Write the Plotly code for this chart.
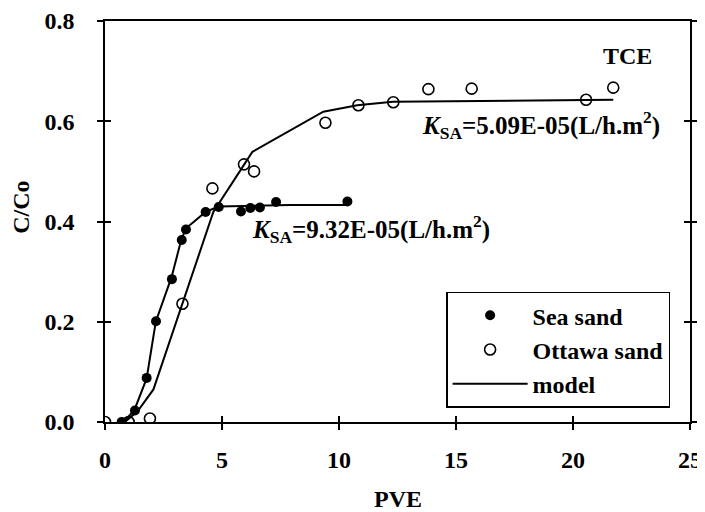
import plotly.graph_objects as go

sea_x = [0.71, 1.28, 1.78, 2.18, 2.86, 3.28, 3.46, 4.30, 4.86, 5.81, 6.21, 6.62, 7.31, 10.36]
sea_y = [0.000, 0.023, 0.088, 0.201, 0.285, 0.363, 0.384, 0.419, 0.429, 0.420, 0.427, 0.428, 0.439, 0.440]

ott_x = [0.00, 1.01, 1.92, 3.31, 4.59, 5.94, 6.37, 9.42, 10.83, 12.32, 13.82, 15.67, 20.56, 21.72]
ott_y = [0.000, 0.000, 0.007, 0.236, 0.466, 0.514, 0.500, 0.597, 0.632, 0.638, 0.664, 0.665, 0.643, 0.667]

# Model curves
sea_model_x = [0.78, 1.25, 1.78, 2.17, 2.85, 3.25, 3.45, 4.30, 4.85, 7.90, 10.36]
sea_model_y = [0.000, 0.023, 0.087, 0.200, 0.290, 0.362, 0.386, 0.419, 0.430, 0.433, 0.433]

ott_model_x = [0.85, 1.40, 2.07, 3.30, 4.63, 5.98, 6.30, 9.33, 10.78, 12.30, 21.72]
ott_model_y = [0.000, 0.022, 0.065, 0.236, 0.419, 0.516, 0.539, 0.619, 0.632, 0.639, 0.643]

x_ticks = [0, 5, 10, 15, 20, 25]
y_ticks = [0.0, 0.2, 0.4, 0.6, 0.8]
y_tick_labels = ["0.0", "0.2", "0.4", "0.6", "0.8"]

FONT = "Liberation Serif, Times New Roman, serif"
FS = 24

fig = go.Figure()

fig.add_trace(go.Scatter(
    x=sea_x, y=sea_y, mode="markers", name="Sea sand",
    marker=dict(symbol="circle", size=10, color="black"),
))
fig.add_trace(go.Scatter(
    x=ott_x, y=ott_y, mode="markers", name="Ottawa sand",
    marker=dict(symbol="circle-open", size=11, color="black", line=dict(width=1.6)),
))
fig.add_trace(go.Scatter(
    x=sea_model_x, y=sea_model_y, mode="lines", name="model",
    line=dict(color="black", width=2),
))
fig.add_trace(go.Scatter(
    x=ott_model_x, y=ott_model_y, mode="lines", name="model", showlegend=False,
    line=dict(color="black", width=2),
))
# empty trace on the overlay axes (used only to draw inner tick marks)
fig.add_trace(go.Scatter(x=[], y=[], xaxis="x2", yaxis="y2", showlegend=False, hoverinfo="skip"))

axis_common = dict(
    showgrid=False, zeroline=False, showline=True, linecolor="black", linewidth=1.5,
    tickcolor="black", tickwidth=1.5, ticklen=6, automargin=False,
    tickfont=dict(family=FONT, size=FS, color="black", weight="bold"),
)

# page body has an 8px margin: figure sized so that it fills the 705x512 window
fig.update_layout(
    width=697, height=504,
    margin=dict(l=97, r=15, t=13, b=90, autoexpand=False),
    paper_bgcolor="white", plot_bgcolor="white",
    font=dict(family=FONT, size=FS, color="black"),
    xaxis=dict(
        **axis_common, range=[0, 25], tickvals=x_ticks, ticks="outside", mirror=True,
        ticklabelstandoff=9,
    ),
    yaxis=dict(
        **axis_common, range=[0, 0.8], tickvals=y_ticks, ticktext=y_tick_labels,
        ticks="outside", mirror="ticks", ticklabelstandoff=18,
    ),
    xaxis2=dict(
        overlaying="x", matches="x", range=[0, 25], tickvals=x_ticks, ticks="inside",
        ticklen=6, tickwidth=1.5, tickcolor="black", showticklabels=False,
        showgrid=False, zeroline=False, showline=False, side="bottom", automargin=False,
    ),
    yaxis2=dict(
        overlaying="y", matches="y", range=[0, 0.8], tickvals=y_ticks, ticks="inside",
        ticklen=6, tickwidth=1.5, tickcolor="black", showticklabels=False, mirror="ticks",
        showgrid=False, zeroline=False, showline=False, side="left", automargin=False,
    ),
    legend=dict(
        x=0.966, y=0.325, xanchor="right", yanchor="top",
        bgcolor="white", bordercolor="black", borderwidth=1.5,
        font=dict(family=FONT, size=FS, color="black", weight="bold"),
        itemwidth=75, tracegroupgap=0,
    ),
    showlegend=True,
)

# axis titles
fig.add_annotation(
    x=(397.5 - 105) / 585, y=-(499 - 421.7) / 401, xref="paper", yref="paper",
    text="<b>PVE</b>", showarrow=False, font=dict(family=FONT, size=FS, color="black"),
    xanchor="center", yanchor="middle",
)
fig.add_annotation(
    x=-(105 - 21) / 585, y=(421.7 - 207.5) / 401, xref="paper", yref="paper",
    text="<b>C/Co</b>", showarrow=False, textangle=-90,
    font=dict(family=FONT, size=FS, color="black"), xanchor="center", yanchor="middle",
)

fig.add_annotation(
    x=22.35, y=0.73, xref="x", yref="y", text="<b>TCE</b>", showarrow=False,
    font=dict(family=FONT, size=FS, color="black"), xanchor="center", yanchor="middle",
)
fig.add_annotation(
    x=13.45, y=0.593, xref="x", yref="y",
    text="<b><i>K</i><sub>SA</sub>=5.09E-05(L/h.m<sup>2</sup>)</b>", showarrow=False,
    font=dict(family=FONT, size=25, color="black"), xanchor="left", yanchor="middle",
)
fig.add_annotation(
    x=6.2, y=0.386, xref="x", yref="y",
    text="<b><i>K</i><sub>SA</sub>=9.32E-05(L/h.m<sup>2</sup>)</b>", showarrow=False,
    font=dict(family=FONT, size=25, color="black"), xanchor="left", yanchor="middle",
)

fig.write_html("out.html")
